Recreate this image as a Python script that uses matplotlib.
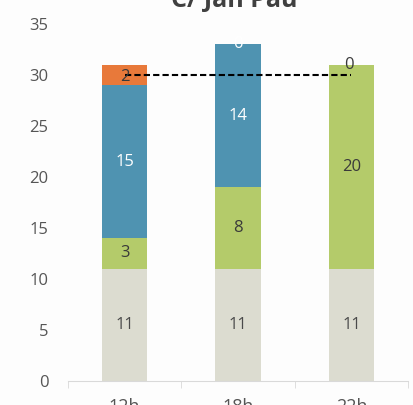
import matplotlib.pyplot as plt
from matplotlib.ticker import FixedLocator, NullFormatter

categorias = ['12h', '18h', '22h']
gris = [11, 11, 11]
verde = [3, 8, 20]
azul = [15, 14, 0]
naranja = [2, 0, 0]
linea = [30, 30, 30]

plt.rcParams['font.family'] = ['Open Sans', 'DejaVu Sans']

fig = plt.figure(figsize=(4.14, 4.05), dpi=100)
fig.patch.set_facecolor('#fdfdfd')
ax = fig.add_axes([0.164, 0.0593, 0.822, 0.8814])
ax.set_facecolor('#fdfdfd')

x = list(range(len(categorias)))
w = 0.4
b1 = ax.bar(x, gris, w, color='#dcdcd0')
b2 = ax.bar(x, verde, w, bottom=gris, color='#b4cb6a')
base3 = [g + v for g, v in zip(gris, verde)]
b3 = ax.bar(x, azul, w, bottom=base3, color='#4f93b1')
base4 = [b + a for b, a in zip(base3, azul)]
b4 = ax.bar(x, naranja, w, bottom=base4, color='#e8793a')

ax.plot(x, linea, color='black', linestyle=(0, (3, 1.5)), linewidth=1.5)

fs = 12
for i in x:
    ax.text(i, gris[i] / 2, str(gris[i]), ha='center', va='center', fontsize=fs, color='#4a4a4a')
    if verde[i]:
        ax.text(i, base3[i] - verde[i] / 2, str(verde[i]), ha='center', va='center', fontsize=fs, color='#3a3a3a')
    if azul[i]:
        ax.text(i, base4[i] - azul[i] / 2, str(azul[i]), ha='center', va='center', fontsize=fs, color='white')
    if naranja[i]:
        ax.text(i, base4[i] + naranja[i] / 2 - 0.15, str(naranja[i]), ha='center', va='center', fontsize=fs, color='#3a3a3a')
ax.text(1, 33, '0', ha='center', va='center', fontsize=fs, color='white', clip_on=True)
ax.text(1.98, 31.0, '0', ha='center', va='center', fontsize=fs, color='#3a3a3a')

ax.set_xlim(-0.5, 2.5)
ax.set_ylim(0, 35)
ax.set_yticks(range(0, 36, 5))
ax.tick_params(axis='y', length=0, labelsize=12, labelcolor='#555555', pad=14)
ax.set_xticks(x)
ax.set_xticklabels(categorias)
ax.tick_params(axis='x', which='major', length=0, labelsize=13, labelcolor='#555555', pad=12)
ax.xaxis.set_minor_locator(FixedLocator([-0.5, 0.5, 1.5, 2.5]))
ax.xaxis.set_minor_formatter(NullFormatter())
ax.tick_params(axis='x', which='minor', length=5, color='#d9d9d9', direction='out')

for s in ['top', 'right', 'left']:
    ax.spines[s].set_visible(False)
ax.spines['bottom'].set_color('#d9d9d9')

fig.text(0.565, 1.0, 'C/ Jan Pau', ha='center', va='center', fontsize=18, color='#404040', fontweight='bold')

fig.savefig('out.png', dpi=100, facecolor=fig.get_facecolor())
